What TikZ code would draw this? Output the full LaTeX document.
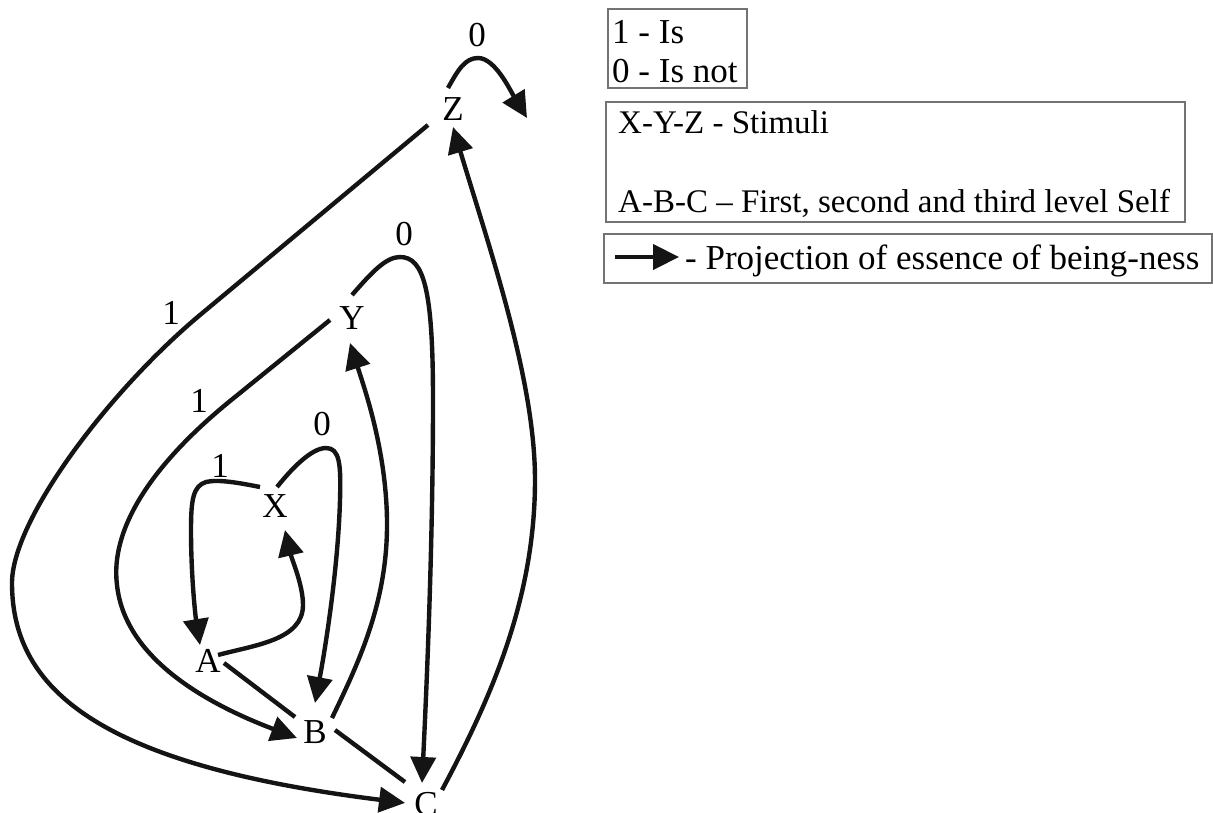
\documentclass[tikz,border=0pt]{standalone}
\usepackage{fontspec}
\setmainfont{Liberation Serif}
\usetikzlibrary{arrows.meta,calc}
\begin{document}
\begin{tikzpicture}[x=1pt,y=-1pt,
  lbl/.style={inner sep=0pt, font=\fontsize{35}{42}\selectfont},
  conn/.style={line width=4.4pt, black!92},
  arr/.style={conn, -{Triangle[length=26pt,width=25pt]}},
  legbox/.style={draw=black!55, line width=1.2pt},
  legtxt/.style={anchor=base west, inner sep=0pt}]
\useasboundingbox (0,0) rectangle (1213,812);

% main nodes
\node[lbl] (Z) at (453,109) {Z};
\node[lbl] (Y) at (352,318) {Y};
\node[lbl] (X) at (275,506) {X};
\node[lbl] (A) at (208,661) {A};
\node[lbl] (B) at (315,732) {B};
\node[lbl] (C) at (426,804) {C};

% edge labels
\node[lbl] (l0z) at (477,35) {0};
\node[lbl] (l0y) at (404,234) {0};
\node[lbl] (l1z) at (171,313) {1};
\node[lbl] (l1y) at (199,401) {1};
\node[lbl] (l0x) at (322,424) {0};
\node[lbl] (l1x) at (220,466) {1};

\coordinate (zl) at (527,118);

% Z loop (0)
\draw[arr] ($(Z)+(103.4:21.6pt)$) .. controls (458,70) and (465,58) .. (478,58)
  .. controls (495,58) and (510,90) .. (zl);
% Z outer (1) to C
\draw[arr] ($(Z)+(212.6:29.7pt)$) -- (200,315) .. controls (108,392) and (12,520) .. (12,583)
  .. controls (12,690) and (100,765) .. ($(C)+(177:21pt)$);
% C to Z
\draw[arr] ($(C)+(41.2:21.3pt)$) .. controls (490,700) and (535,600) .. (535,480)
  .. controls (535,380) and (490,250) .. ($(Z)+(270:18pt)$);
% Y (1) to B
\draw[arr] ($(Y)+(185.2:22.1pt)$) -- (235,397) .. controls (150,465) and (110,530) .. (117,585)
  .. controls (125,660) and (210,705) .. ($(B)+(198.4:19pt)$);
% Y (0) to C
\draw[arr] ($(Y)+(90:23pt)$) .. controls (372,272) and (386,257) .. (400,257)
  .. controls (424,257) and (433,290) .. (433,400)
  .. controls (433,550) and (426,700) .. ($(C)+(100.8:21.4pt)$);
% B to Y
\draw[arr] ($(B)+(39.5:22pt)$) .. controls (360,660) and (388,600) .. (387,520)
  .. controls (386,450) and (365,390) .. ($(Y)+(265.4:25.1pt)$);
% X (1) to A
\draw[arr] ($(X)+(128.3:24.2pt)$) .. controls (240,483) and (218,479) .. (206,482)
  .. controls (193,486) and (191,500) .. (191,530)
  .. controls (191,580) and (196,620) .. ($(A)+(116.6:17.9pt)$);
% X (0) to B
\draw[arr] ($(X)+(84:19.1pt)$) .. controls (293,467) and (312,448) .. (326,448)
  .. controls (340,448) and (341,465) .. (340,500)
  .. controls (338,570) and (325,650) .. ($(B)+(90:29pt)$);
% A to X
\draw[arr] ($(A)+(31:11.7pt)$) .. controls (255,645) and (303,640) .. (303,605)
  .. controls (303,585) and (292,560) .. ($(X)+(292.6:26pt)$);
% plain links
\draw[conn] ($(A)+(352.9:16.1pt)$) -- ($(B)+(143.1:25pt)$);
\draw[conn] ($(B)+(5.7:20.1pt)$) -- ($(C)+(133.7:30.4pt)$);

% legend
\draw[legbox] (608,9) rectangle (747,88);
\node[legtxt, font=\fontsize{35}{42}\selectfont] (k1) at (612,43) {1 - Is};
\node[legtxt, font=\fontsize{35}{42}\selectfont] (k0) at (612,82) {0 - Is not};

\draw[legbox] (606,102) rectangle (1185,222);
\node[legtxt, font=\fontsize{33}{40}\selectfont] (kx) at (618,133) {X-Y-Z - Stimuli};
\node[legtxt, font=\fontsize{33}{40}\selectfont] (ka) at (618,212) {A-B-C – First, second and third level Self};

\draw[legbox] (604,234) rectangle (1212,283);
\coordinate (la1) at (615,257);
\coordinate (la2) at (679,257);
\draw[arr] (la1) -- (la2);
\node[legtxt, font=\fontsize{35}{42}\selectfont] (kp) at (685,269) {- Projection of essence of being-ness};
\end{tikzpicture}
\end{document}
